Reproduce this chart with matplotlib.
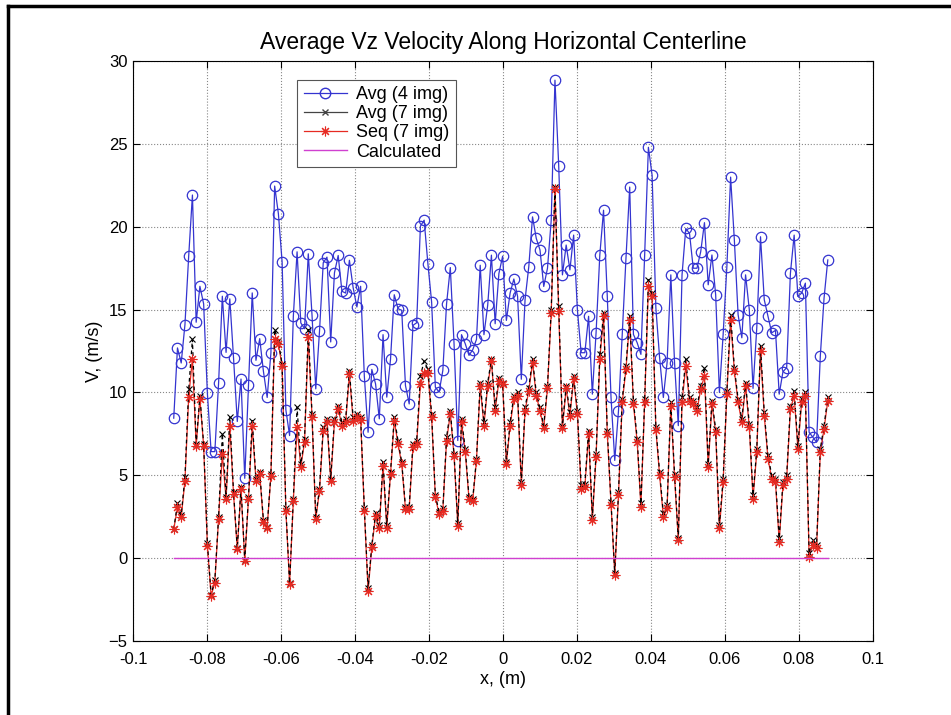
import numpy as np
import matplotlib
matplotlib.use("Agg")
import matplotlib.pyplot as plt
from matplotlib.lines import Line2D

plt.rcParams['font.family'] = ['Liberation Sans', 'DejaVu Sans']

# measurement positions along the centerline (m)
x_first = -0.089
x_last = 0.0878

avg4 = [8.45, 12.69, 11.78, 14.1, 18.23, 21.92, 14.24, 16.41, 15.35, 9.96,
        6.43, 6.43, 10.57, 15.81, 12.42, 15.65, 12.08, 8.25, 10.81, 4.82,
        10.47, 16.01, 11.94, 13.25, 11.27, 9.7, 12.38, 22.46, 20.79, 17.87,
        8.95, 7.4, 14.6, 18.49, 14.2, 13.85, 18.37, 14.66, 10.22, 13.69,
        17.83, 18.17, 13.05, 17.22, 18.27, 16.11,
        16.0, 17.98, 16.33, 15.16, 16.41, 10.97, 7.6, 11.39, 10.52, 8.41,
        13.49, 9.72, 12.0, 15.9, 15.06, 14.96, 10.42, 9.31, 14.05, 14.21,
        20.04, 20.4, 17.78, 15.46, 10.32, 10.02, 11.33, 15.36, 17.54, 12.94,
        7.1, 13.49, 12.94, 12.24, 12.58, 13.2, 17.68, 13.49, 15.26, 18.29,
        14.15, 17.18, 18.23, 14.35, 16.0,
        16.85, 15.8, 10.8, 15.6, 17.6, 20.6, 19.3, 18.6, 16.4, 17.5,
        20.4, 28.85, 23.7, 17.1, 18.9, 17.4, 19.5, 15.0, 12.4, 12.4,
        14.6, 9.9,
        13.6, 18.3, 21.0, 15.8, 9.7, 5.9, 8.9, 13.5, 18.1, 22.4,
        13.5, 13.0, 12.3, 18.3, 24.8, 23.1, 15.1, 12.1, 9.7, 11.8,
        17.1, 11.8, 8.0,
        17.1, 19.9, 19.6, 17.5, 17.5, 18.5, 20.25, 16.5, 18.3, 15.9,
        10.0, 13.5, 17.6, 23.0, 19.2, 14.7, 13.3, 17.1, 15.0, 10.25,
        13.9, 19.4, 15.6,
        14.6, 13.6, 13.75, 9.9, 11.25, 11.5, 17.2, 19.5, 15.8, 16.0,
        16.6, 7.6, 7.3, 7.0, 12.2, 15.7, 18.0]

avg7 = [1.75, 3.3, 2.6, 4.9, 10.2, 13.2, 6.9, 9.8, 6.9, 0.9,
        -2.2, -1.3, 2.5, 7.5, 3.7, 8.5, 4.0, 0.6, 4.3, -0.1,
        3.7, 8.3, 4.8, 5.2, 2.3, 1.9, 5.1, 13.8, 13.1, 11.7,
        3.0, -1.5, 3.6, 9.1, 5.7, 7.2, 13.8, 8.7, 2.5, 4.2,
        7.9, 8.4, 4.8, 8.4, 9.2, 8.2,
        8.4, 11.3, 8.5, 8.7, 8.5, 3.0, -1.8, 0.8, 2.7, 2.0,
        5.8, 2.0, 5.2, 8.5, 7.1, 5.8, 3.1, 3.1, 6.9, 7.1,
        11.0, 11.9, 11.4, 8.7, 3.8, 2.8, 3.0, 7.3, 8.9, 6.3,
        2.1, 8.4, 6.6, 3.7, 3.6, 6.0, 10.6, 8.2, 10.6, 12.0,
        9.1, 10.9, 10.6, 5.8, 8.2,
        9.8, 10.0, 4.6, 9.1, 10.3, 12.0, 10.0, 9.1, 8.0, 10.4,
        15.0, 22.4, 15.2, 8.0, 10.4, 8.8, 11.0, 8.9, 4.4, 4.5,
        7.7, 2.5,
        6.3, 12.3, 14.8, 7.7, 3.4, -0.9, 4.0, 9.6, 11.6, 14.6,
        9.5, 7.2, 3.3, 9.6, 16.8, 16.0, 7.9, 5.2, 2.7, 3.2,
        9.4, 5.1, 1.2,
        9.7, 12.0, 9.7, 9.5, 9.1, 10.4, 11.5, 5.7, 9.5, 7.8,
        2.0, 4.8, 10.1, 14.7, 11.5, 9.6, 8.4, 10.6, 8.1, 3.8,
        6.6, 12.8, 8.8,
        6.2, 5.0, 4.8, 1.2, 4.6, 5.0, 9.2, 10.1, 6.8, 9.6,
        10.0, 0.3, 1.1, 0.8, 6.6, 8.0, 9.7]

seq7 = [1.75, 3.06, 2.46, 4.68, 9.72, 12.04, 6.79, 9.62, 6.79, 0.75,
        -2.28, -1.47, 2.36, 6.29, 3.57, 8.0, 3.87, 0.54, 4.17, -0.16,
        3.57, 8.0, 4.68, 5.08, 2.16, 1.85, 4.98, 13.25, 12.94, 11.57,
        2.86, -1.57, 3.47, 7.9, 5.52, 7.0, 13.35, 8.5, 2.36, 4.07,
        7.7, 8.2, 4.68, 8.2, 9.0, 8.0,
        8.2, 11.1, 8.3, 8.5, 8.35, 2.86, -1.98, 0.65, 2.56, 1.85,
        5.58, 1.85, 5.08, 8.3, 6.9, 5.69, 2.96, 2.96, 6.7, 6.9,
        10.5, 11.2, 11.2, 8.5, 3.67, 2.66, 2.86, 7.1, 8.7, 6.19,
        1.96, 8.2, 6.4, 3.57, 3.47, 5.89, 10.4, 8.0, 10.4, 11.9,
        8.9, 10.7, 10.5, 5.69, 8.0,
        9.6, 9.8, 4.4, 8.9, 10.1, 11.8, 9.8, 8.9, 7.85, 10.25,
        14.8, 22.3, 14.9, 7.85, 10.25, 8.6, 10.8, 8.7, 4.2, 4.3,
        7.5, 2.3,
        6.1, 12.0, 14.6, 7.5, 3.2, -1.0, 3.8, 9.4, 11.4, 14.4,
        9.3, 7.0, 3.1, 9.4, 16.4, 15.8, 7.75, 5.0, 2.5, 3.0,
        9.2, 4.9, 1.1,
        9.4, 11.6, 9.5, 9.3, 8.9, 10.2, 11.0, 5.5, 9.3, 7.6,
        1.8, 4.6, 9.9, 14.4, 11.3, 9.4, 8.2, 10.4, 7.9, 3.6,
        6.4, 12.5, 8.6,
        6.0, 4.8, 4.6, 1.0, 4.4, 4.8, 9.0, 9.8, 6.6, 9.4,
        9.8, 0.1, 0.8, 0.6, 6.4, 7.8, 9.5]

calculated = [0.0] * len(avg4)

x = np.linspace(x_first, x_last, len(avg4))

fig = plt.figure(figsize=(9.51, 7.15), dpi=100)
ax = fig.add_axes([0.1399, 0.1035, 0.778, 0.811])

blue = '#3434d0'
red = '#e62a22'
mag = '#d040d0'
star = (8, 2, 0)  # thin asterisk marker

ax.plot(x, avg4, '-', color=blue, lw=0.9, marker='o', ms=7.5,
        mfc='none', mec=blue, mew=0.9, zorder=2)
ax.plot(x, seq7, '-', color=red, lw=0.9, zorder=3)
ax.plot(x, avg7, color='k', lw=0.9, ls=(0, (3, 2.5)), marker='x', ms=5,
        mew=0.8, zorder=4)
ax.plot(x, seq7, ls='none', marker=star, ms=7, color=red, mec=red,
        mew=0.8, zorder=5)
ax.plot(x, calculated, '-', color=mag, lw=1.0, zorder=6)

ax.set_xlim(-0.1, 0.1)
ax.set_ylim(-5, 30)
ax.set_xticks(np.arange(-0.1, 0.1001, 0.02))
ax.set_xticklabels(['-0.1', '-0.08', '-0.06', '-0.04', '-0.02', '0',
                    '0.02', '0.04', '0.06', '0.08', '0.1'])
ax.set_yticks(np.arange(-5, 31, 5))
ax.tick_params(direction='in', top=True, right=True, length=5,
               width=0.8, labelsize=12)
ax.tick_params(axis='x', pad=8)
ax.tick_params(axis='y', pad=4)
ax.grid(True, ls=':', color='#888888', lw=0.8)
for s in ax.spines.values():
    s.set_linewidth(0.8)

ax.set_title('Average Vz Velocity Along Horizontal Centerline',
             fontsize=16.5, pad=9)
ax.set_xlabel('x, (m)', fontsize=13, labelpad=3)
ax.set_ylabel('V, (m/s)', fontsize=13, labelpad=4)

handles = [
    Line2D([], [], color=blue, lw=0.9, marker='o', ms=7.5, mfc='none',
           mec=blue),
    Line2D([], [], color='#444444', lw=0.9, marker='x', ms=5),
    Line2D([], [], color=red, lw=0.9, marker=star, ms=7, mew=0.8),
    Line2D([], [], color=mag, lw=1.0),
]
leg = ax.legend(handles, ['Avg (4 img)', 'Avg (7 img)', 'Seq (7 img)',
                          'Calculated'],
                loc='upper left', bbox_to_anchor=(0.222, 0.968),
                fontsize=13, frameon=True, fancybox=False, framealpha=1,
                edgecolor='#555555', borderpad=0.35, labelspacing=0.12,
                handlelength=2.4, handletextpad=0.5, borderaxespad=0)
leg.get_frame().set_linewidth(0.8)

# frame of the surrounding page
fig.add_artist(Line2D([8 / 951, 8 / 951], [0, 1 - 6 / 715],
                      transform=fig.transFigure, color='k', lw=2.5))
fig.add_artist(Line2D([8 / 951, 1], [1 - 6 / 715, 1 - 6 / 715],
                      transform=fig.transFigure, color='k', lw=2.5))

fig.savefig('out.png', dpi=100)
